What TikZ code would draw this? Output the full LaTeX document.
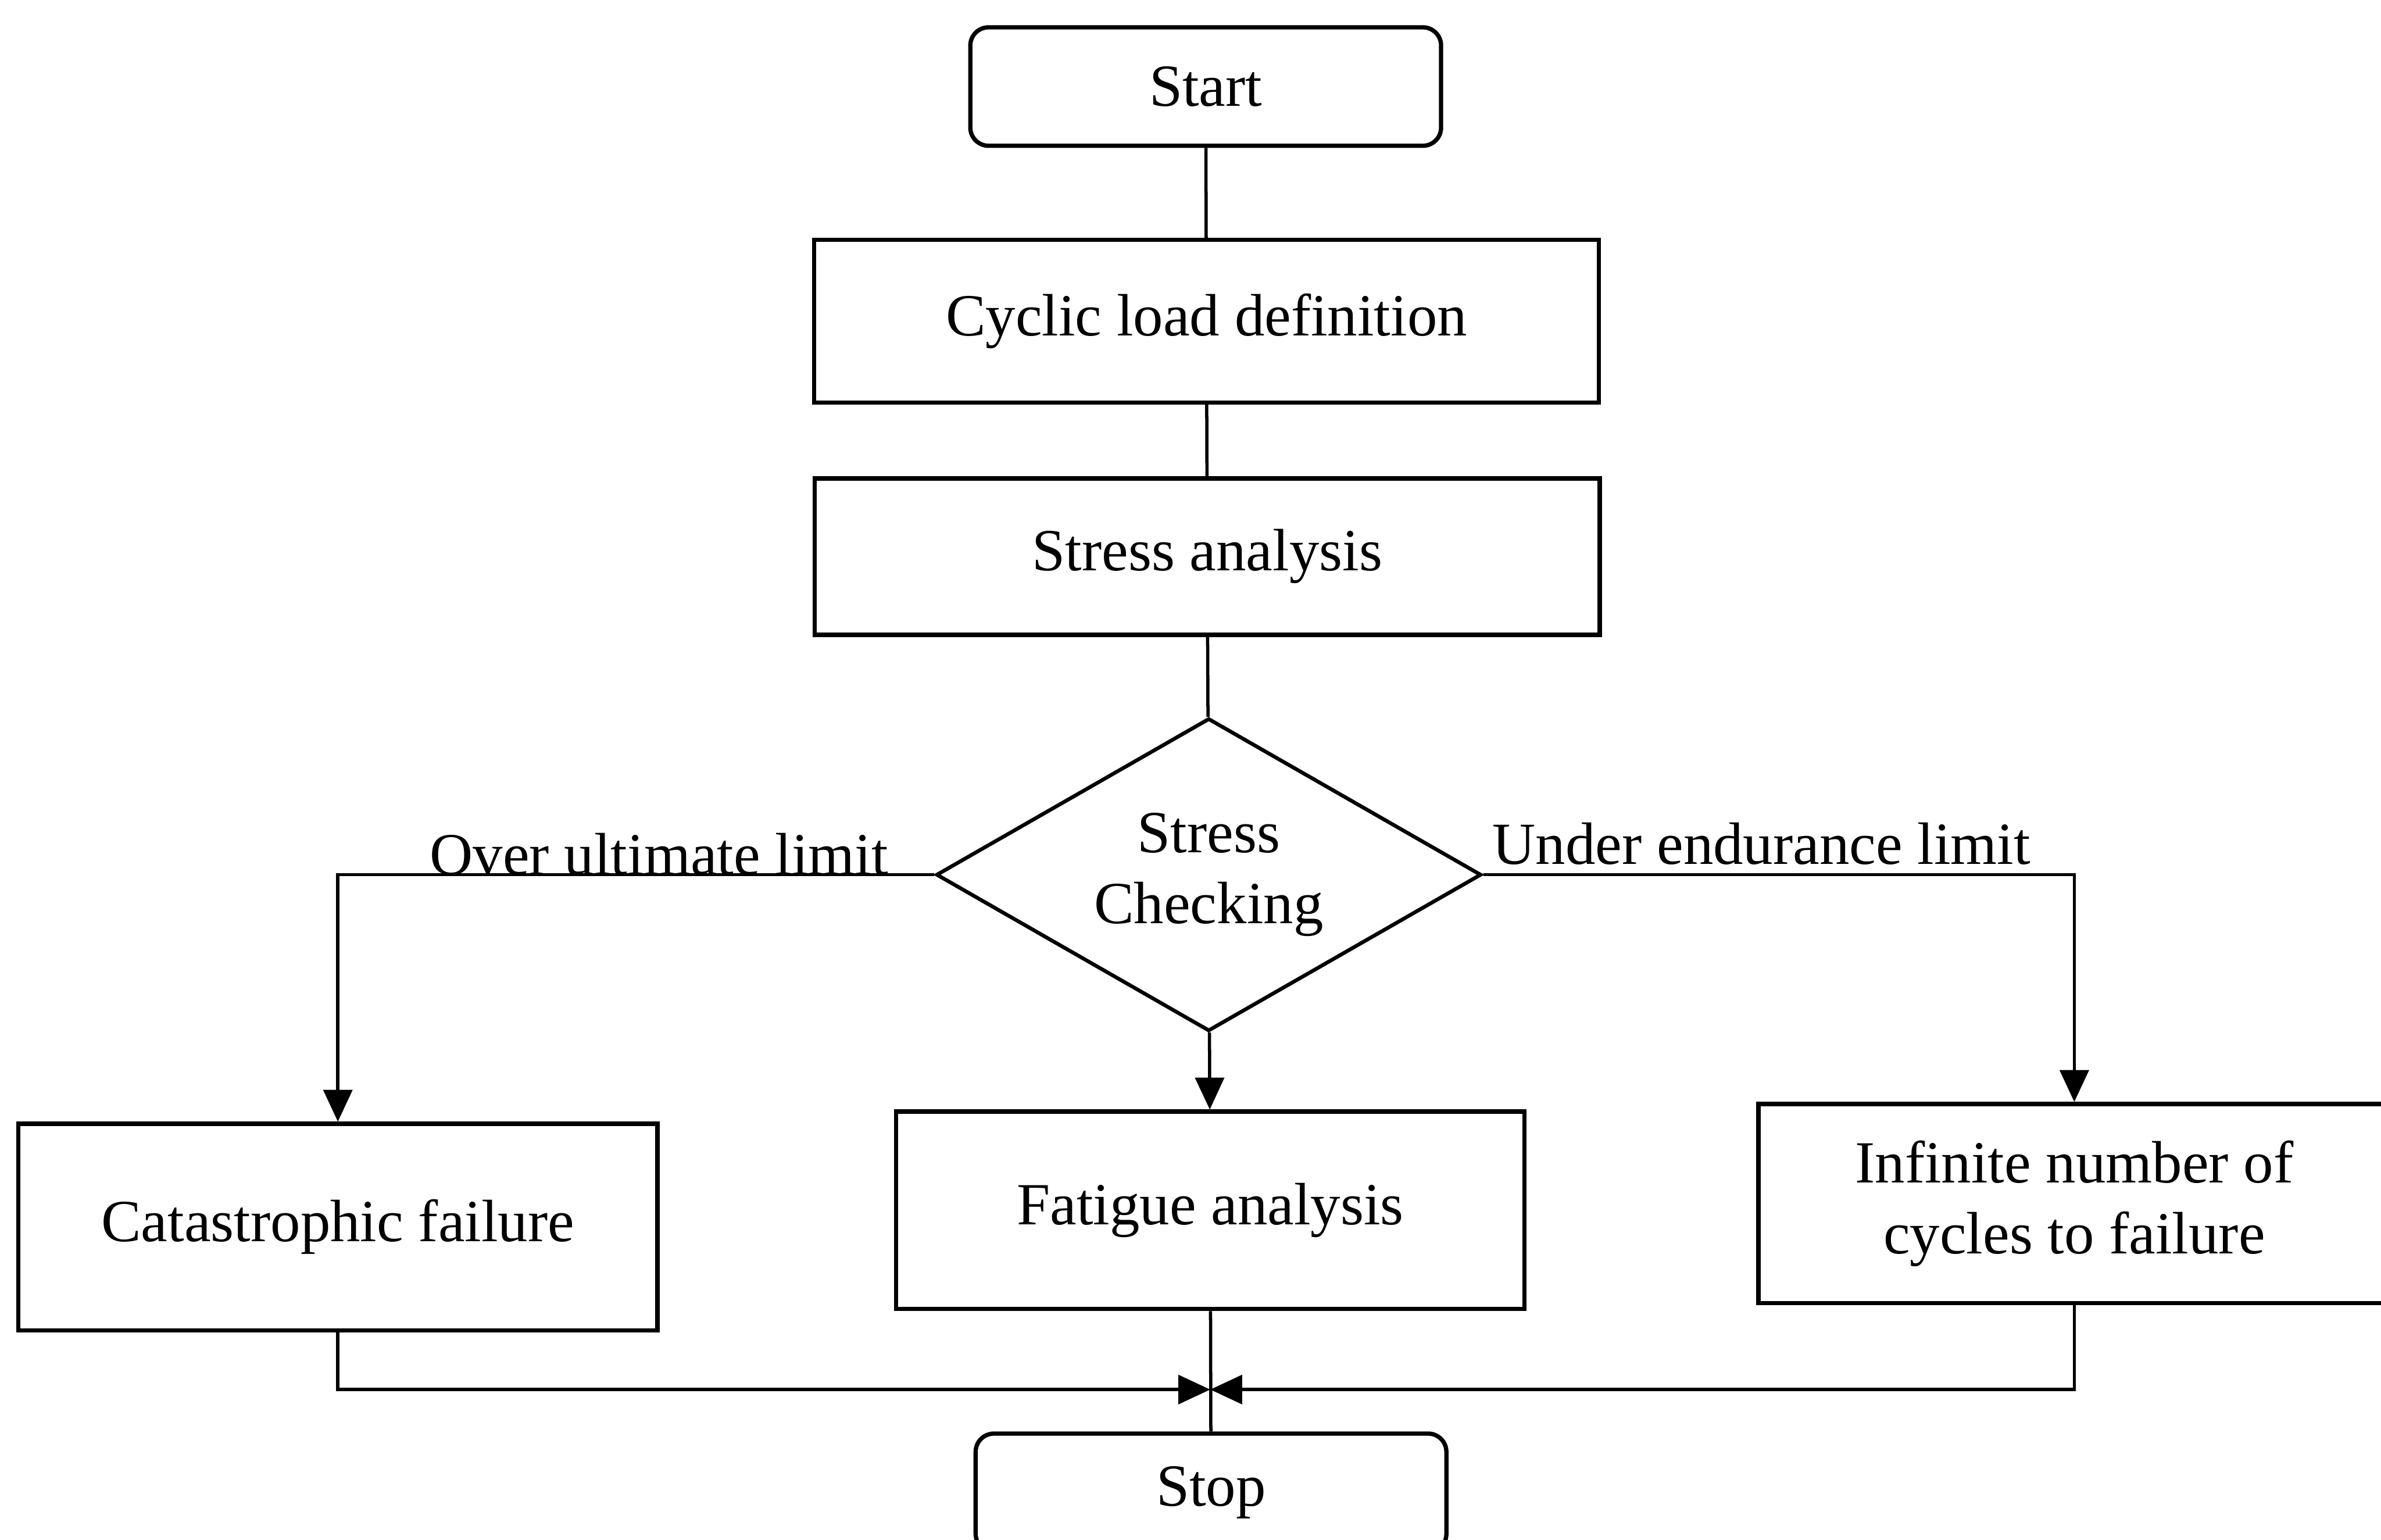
\documentclass[tikz,border=0pt]{standalone}
\usepackage{fontspec}
\setmainfont{Liberation Serif}
\usetikzlibrary{shapes.geometric,arrows.meta}
\begin{document}
\begin{tikzpicture}[line width=.6pt, every node/.style={font=\fontsize{11.2}{13.3}\selectfont},
    box/.style={draw,line width=.8pt,inner sep=0pt,align=center},
    term/.style={box,rounded corners=1.2mm,minimum width=3.1cm,minimum height=.78cm},
    arr/.style={-{Triangle[length=2.1mm,width=1.9mm]}}]
  \useasboundingbox (0,0) rectangle (15.68,-10.14);
  \node [term] (start) at (7.94,-.57) {Start};
  \node [box,minimum width=5.17cm,minimum height=1.07cm] (cyclic) at (7.945,-2.115) {Cyclic load definition};
  \node [box,minimum width=5.17cm,minimum height=1.03cm] (stressan) at (7.95,-3.665) {Stress analysis};
  \node [draw,diamond,aspect=1.74,inner sep=0pt,line width=.7pt,minimum width=3.59cm,minimum height=2.06cm,align=center] (check) at (7.96,-5.76) {Stress\\Checking};
  \node [box,minimum width=4.21cm,minimum height=1.36cm] (catas) at (2.225,-8.08) {Catastrophic failure};
  \node [box,minimum width=4.14cm,minimum height=1.30cm] (fatigue) at (7.97,-7.97) {Fatigue analysis};
  \node [box,minimum width=4.16cm,minimum height=1.31cm] (infinite) at (13.66,-7.925) {Infinite number of\\cycles to failure};
  \node [term] (stop) at (7.975,-9.83) {Stop};
  \node [anchor=base,inner sep=0pt] (overlbl) at (4.34,-5.76) {Over ultimate limit};
  \node [anchor=base,inner sep=0pt] (underlbl) at (11.60,-5.69) {Under endurance limit};
  \coordinate (merge) at (7.97,-9.15);
  \draw (start) -- (cyclic);
  \draw (cyclic) -- (stressan);
  \draw (stressan) -- (check);
  \draw [arr] (check.west) -| (catas.north);
  \draw [arr] (check.east) -| (infinite.north);
  \draw [arr] (check) -- (fatigue);
  \draw [arr] (catas.south) |- (merge);
  \draw [arr] (infinite.south) |- (merge);
  \draw (fatigue) -- (stop);
\end{tikzpicture}
\end{document}
